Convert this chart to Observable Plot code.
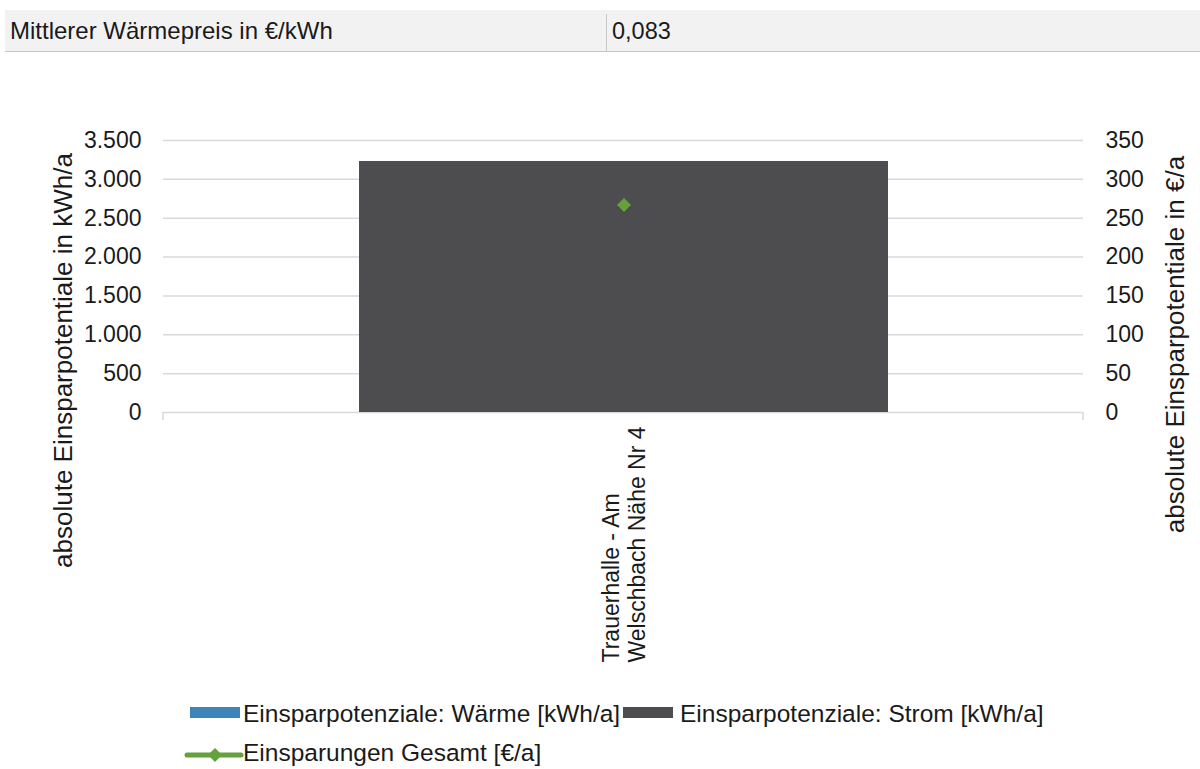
<!DOCTYPE html>
<html>
<head>
<meta charset="utf-8">
<script src="https://cdn.jsdelivr.net/npm/d3@7"></script>
<script src="https://cdn.jsdelivr.net/npm/@observablehq/plot@0.6"></script>
<style>
  html, body { margin: 0; padding: 0; background: #fff; }
  #root { position: relative; width: 1200px; height: 769px; overflow: hidden; font-family: "Liberation Sans", Arial, sans-serif; color: #1a1a1a; }
  #table { position: absolute; left: 5px; top: 10px; width: 1195px; height: 42px; background: #f2f2f2; border-bottom: 1.5px solid #c4c4c4; box-sizing: border-box; font-size: 24px; }
  #table .c1 { position: absolute; left: 5px; top: 0; line-height: 42px; }
  #table .div { position: absolute; left: 601px; top: 4px; width: 1px; height: 38px; background: #c8c8c8; }
  #table .c2 { position: absolute; left: 607px; top: 0; line-height: 42px; font-size: 23.5px; }
  #chart { position: absolute; left: 0; top: 70px; }
  .lg { position: absolute; font-size: 24.5px; line-height: 28px; white-space: nowrap; }
  .sw { position: absolute; }
</style>
</head>
<body>
<div id="root">
  <div id="chart"></div>
  <div id="table"></div>
  <div id="legend"></div>
</div>
<script>
// ---- data ----
const categories = ["Trauerhalle - Am\nWelschbach Nähe Nr 4"];
const waermeKWh = [0];
const stromKWh = [3230];
const gesamtEuro = [267];
const leftTicks = [0, 500, 1000, 1500, 2000, 2500, 3000, 3500];
const rightTicks = [0, 50, 100, 150, 200, 250, 300, 350];
const seriesNames = ["Einsparpotenziale: Wärme [kWh/a]", "Einsparpotenziale: Strom [kWh/a]", "Einsparungen Gesamt [€/a]"];
const seriesColors = ["#3d84b8", "#4d4d4f", "#64a03c"];
const tableLabel = "Mittlerer Wärmepreis in €/kWh";
const tableValue = "0,083";
const leftTitle = "absolute Einsparpotentiale in kWh/a";
const rightTitle = "absolute Einsparpotentiale in €/a";

// ---- helpers ----
const de = d3.formatLocale({decimal: ",", thousands: ".", grouping: [3], currency: ["", "€"]});
const fmt = de.format(",d");
const k = leftTicks[leftTicks.length - 1] / rightTicks[rightTicks.length - 1]; // secondary axis ratio

const barRows = [];
categories.forEach((c, i) => {
  barRows.push({cat: c, series: seriesNames[0], value: waermeKWh[i]});
  barRows.push({cat: c, series: seriesNames[1], value: stromKWh[i]});
});
const dotRows = categories.map((c, i) => ({cat: c, value: gesamtEuro[i]}));

const W = 1200, H = 620;
const endTicks = (index, scales, values, dims) => {
  const g = d3.create("svg:g");
  const y0 = scales.y(0);
  for (const x of [dims.marginLeft, dims.width - dims.marginRight]) {
    g.append("line").attr("x1", x).attr("x2", x).attr("y1", y0).attr("y2", y0 + 8)
      .attr("stroke", "#d9d9d9").attr("stroke-width", 1.5);
  }
  return g.node();
};

const plot = Plot.plot({
  width: W,
  height: H,
  marginTop: 70,
  marginBottom: 278,
  marginLeft: 163,
  marginRight: 117,
  style: {fontFamily: "Liberation Sans, Arial, sans-serif", fontSize: "23px", color: "#1a1a1a", background: "transparent", overflow: "visible"},
  x: {domain: categories, padding: 0.27, axis: null},
  y: {domain: [0, leftTicks[leftTicks.length - 1]], axis: null},
  color: {domain: seriesNames, range: seriesColors},
  marks: [
    Plot.ruleY(leftTicks, {stroke: "#d9d9d9", strokeWidth: 1.5}),
    endTicks,
    Plot.barY(barRows, {x: "cat", y: "value", fill: "series"}),
    Plot.dot(dotRows, {x: "cat", y: d => d.value * k, symbol: "diamond2", r: 6.3, fill: seriesColors[2], stroke: null}),
    Plot.axisY({anchor: "left", ticks: leftTicks, tickSize: 0, tickPadding: 22, tickFormat: fmt, label: null, fontSize: 23}),
    Plot.axisY({anchor: "right", ticks: rightTicks.map(v => v * k), tickSize: 0, tickPadding: 22, tickFormat: d => fmt(d / k), label: null, fontSize: 23}),
    Plot.text(categories, {x: d => d, y: () => 0, text: d => d, rotate: -90, textAnchor: "start", dy: 250, lineHeight: 1.1, fontSize: 23, fill: "#1a1a1a"}),
    Plot.text([leftTitle], {frameAnchor: "left", text: d => d, rotate: -90, textAnchor: "middle", dx: -100, dy: 84, fontSize: 26, fill: "#1a1a1a"}),
    Plot.text([rightTitle], {frameAnchor: "right", text: d => d, rotate: -90, textAnchor: "middle", dx: 92, dy: 68, fontSize: 26, fill: "#1a1a1a"})
  ]
});
document.getElementById("chart").appendChild(plot);

// ---- table ----
const t = document.getElementById("table");
t.innerHTML = `<div class="c1"></div><div class="div"></div><div class="c2"></div>`;
t.querySelector(".c1").textContent = tableLabel;
t.querySelector(".c2").textContent = tableValue;

// ---- legend ----
const lg = document.getElementById("legend");
function addText(txt, x, yc) {
  const d = document.createElement("div");
  d.className = "lg"; d.textContent = txt;
  d.style.left = x + "px"; d.style.top = (yc - 14) + "px";
  lg.appendChild(d);
}
function addRect(x, y, w, h, c) {
  const d = document.createElement("div");
  d.className = "sw";
  Object.assign(d.style, {left: x + "px", top: y + "px", width: w + "px", height: h + "px", background: c});
  lg.appendChild(d);
}
addRect(190, 707, 50, 11, seriesColors[0]);
addText(seriesNames[0], 243, 714);
addRect(623, 707, 50, 11, seriesColors[1]);
addText(seriesNames[1], 680, 714);
// line + diamond swatch
const svgNS = "http://www.w3.org/2000/svg";
const s = document.createElementNS(svgNS, "svg");
s.setAttribute("width", 60); s.setAttribute("height", 20);
s.style.position = "absolute"; s.style.left = "184px"; s.style.top = "745px";
s.innerHTML = `<line x1="3" x2="57" y1="10" y2="10" stroke="${seriesColors[2]}" stroke-width="5" stroke-linecap="round"/><path d="M31,3 L38,10 L31,17 L24,10 Z" fill="${seriesColors[2]}"/>`;
lg.appendChild(s);
addText(seriesNames[2], 243, 753);
</script>
</body>
</html>
